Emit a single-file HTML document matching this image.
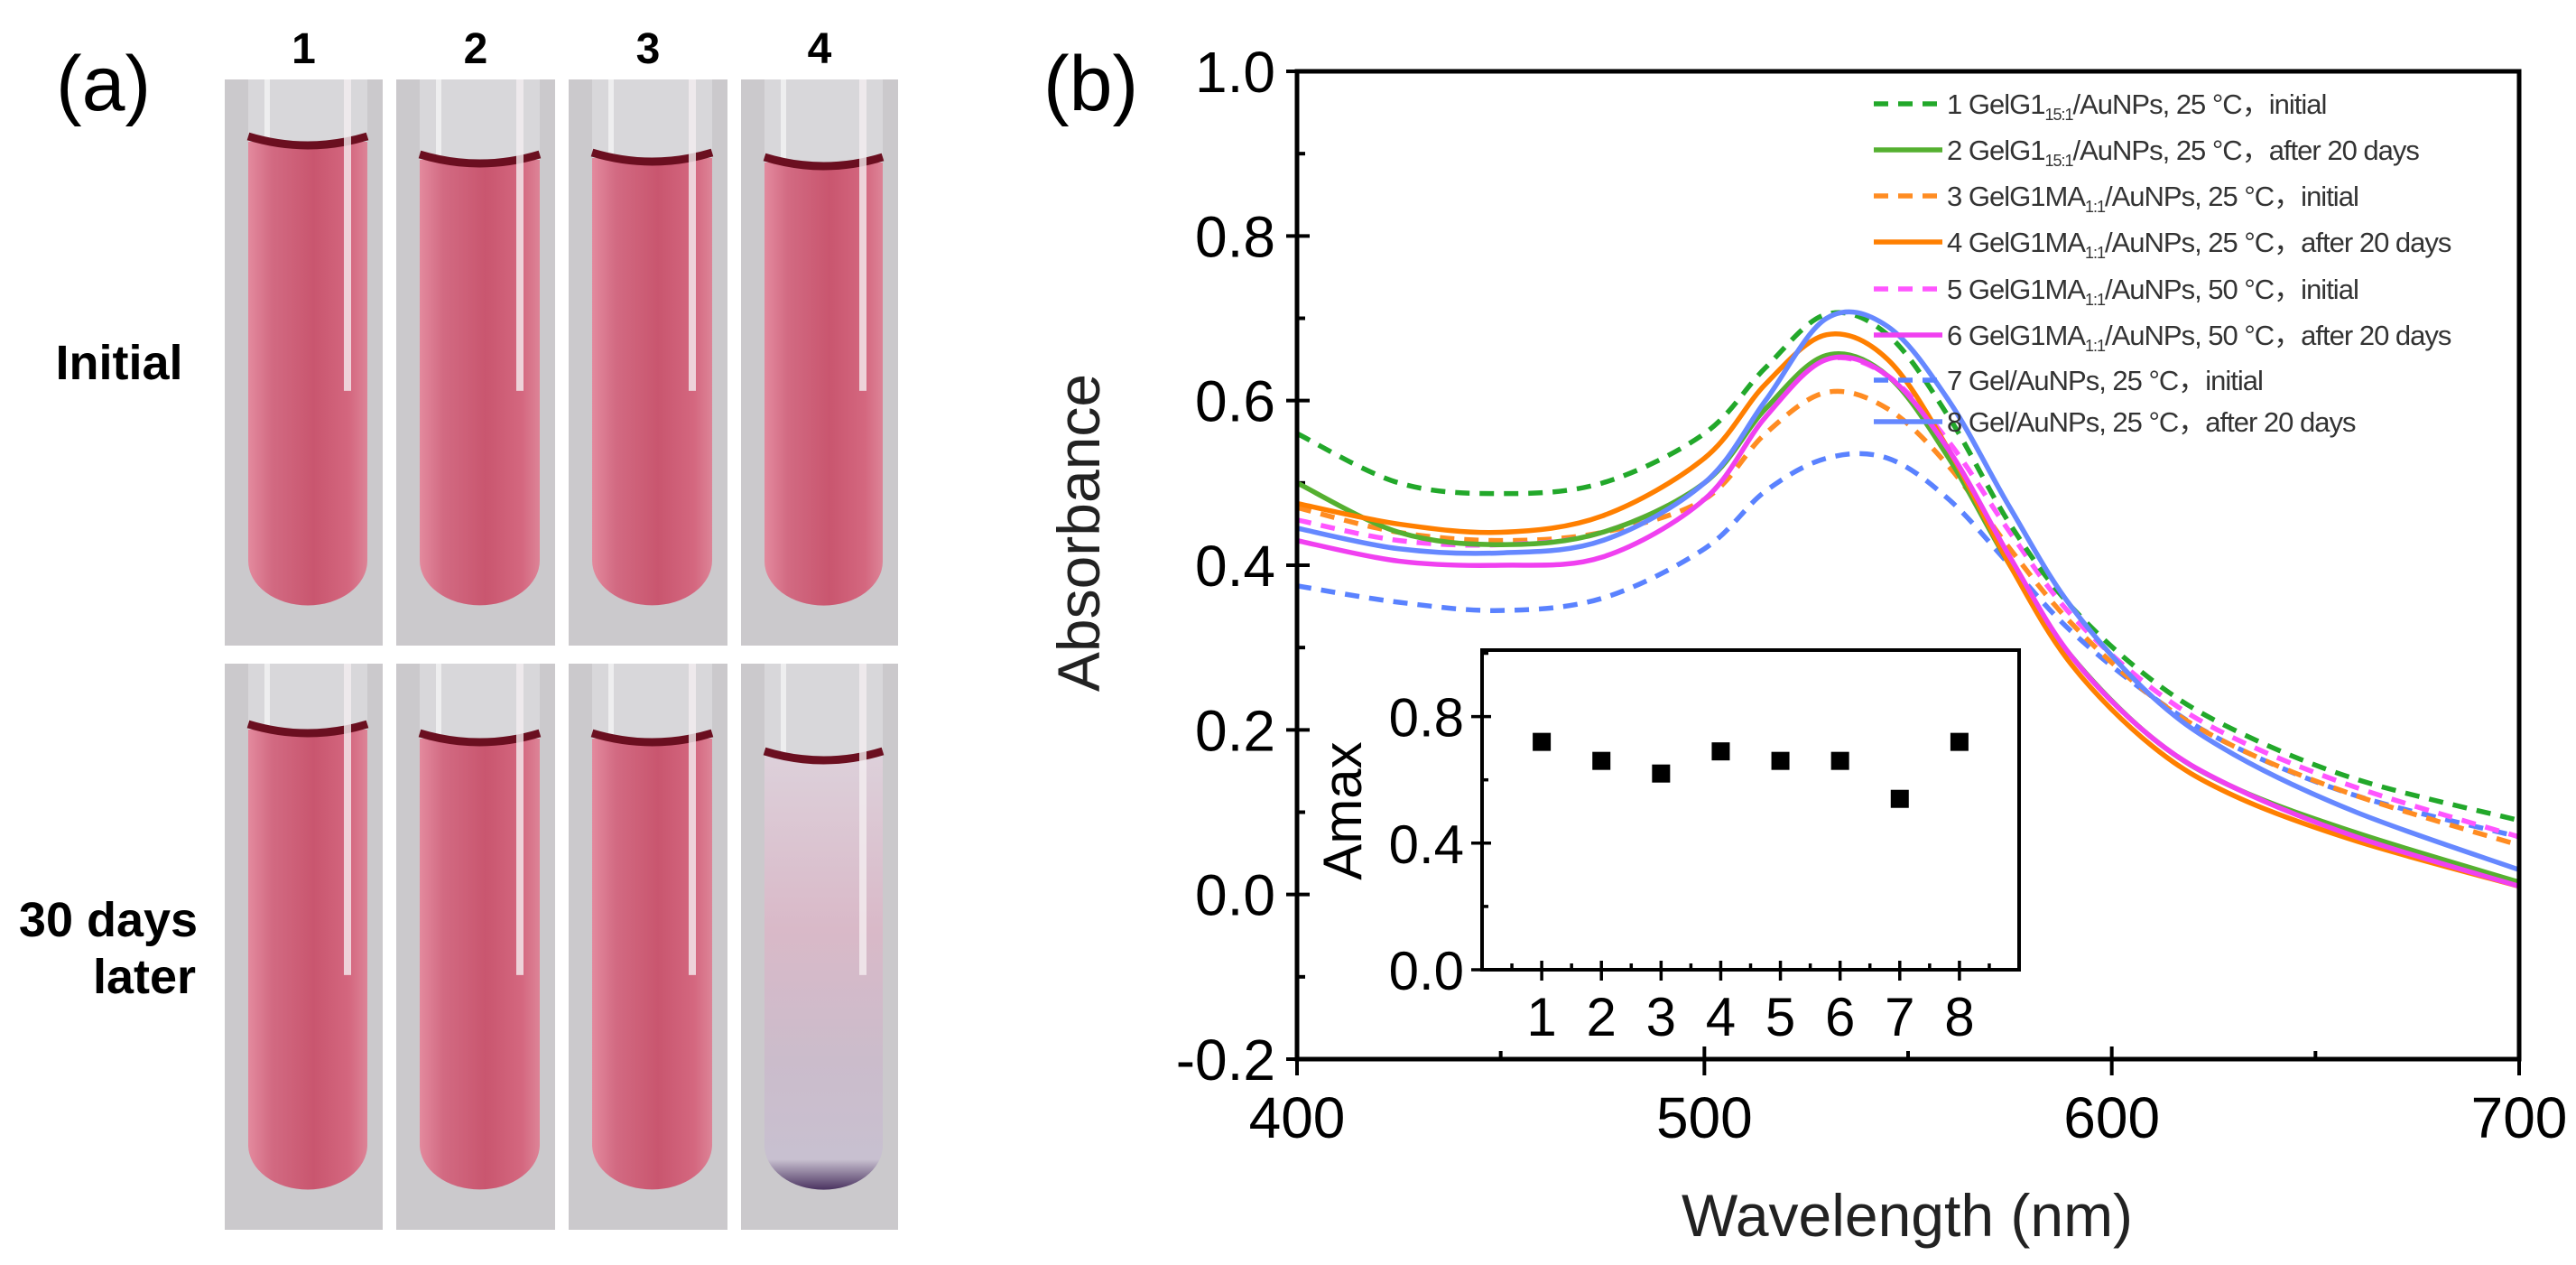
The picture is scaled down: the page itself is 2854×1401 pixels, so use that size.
<!DOCTYPE html>
<html><head><meta charset="utf-8"><style>
html,body{margin:0;padding:0;background:#fff;}
svg{display:block;font-family:"Liberation Sans",sans-serif;}
</style></head><body>
<svg id="fig" width="2854" height="1401" viewBox="0 0 2854 1401" xmlns="http://www.w3.org/2000/svg">
<defs>
<linearGradient id="pinkG" x1="0" x2="1" y1="0" y2="0">
<stop offset="0" stop-color="#e38a9e"/><stop offset="0.2" stop-color="#d26a82"/><stop offset="0.55" stop-color="#c9566f"/><stop offset="0.85" stop-color="#d4677f"/><stop offset="1" stop-color="#dd8497"/></linearGradient>
<linearGradient id="paleG" x1="0" x2="0" y1="0" y2="1">
<stop offset="0" stop-color="#ddd0da"/><stop offset="0.4" stop-color="#d9b9c8"/><stop offset="0.7" stop-color="#cbbccb"/><stop offset="0.93" stop-color="#c8c0d0"/><stop offset="1" stop-color="#4a3360"/></linearGradient>
<clipPath id="plotClip"><rect x="1437" y="79" width="1354" height="1094"/></clipPath>
</defs>
<g id="panelA"></g>
<g id="panelB"></g>
</svg>
<script>
// ---- Chart data ----
const wavelengths = [400,425,450,475,500,515,530,545,560,575,590,610,630,660,700];
const s1 = [.56,.50,.487,.50,.56,.64,.705,.68,.58,.45,.35,.26,.20,.14,.09];
const s2 = [.50,.44,.425,.44,.50,.59,.655,.63,.53,.40,.29,.19,.13,.075,.015];
const s3 = [.47,.44,.43,.44,.48,.56,.61,.59,.52,.42,.33,.24,.18,.12,.06];
const s4 = [.475,.45,.44,.46,.53,.62,.68,.65,.54,.40,.28,.18,.12,.065,.01];
const s5 = [.455,.43,.425,.44,.50,.59,.65,.63,.55,.44,.34,.25,.19,.13,.07];
const s6 = [.43,.405,.40,.41,.48,.58,.65,.63,.54,.41,.29,.19,.13,.07,.01];
const s7 = [.375,.355,.345,.36,.42,.49,.53,.53,.48,.40,.32,.24,.18,.12,.07];
const s8 = [.445,.42,.415,.43,.50,.60,.70,.69,.60,.47,.35,.24,.17,.10,.03];
const seriesLabels = ["1 GelG1|15:1|/AuNPs, 25 °C，initial","2 GelG1|15:1|/AuNPs, 25 °C，after 20 days","3 GelG1MA|1:1|/AuNPs, 25 °C，initial","4 GelG1MA|1:1|/AuNPs, 25 °C，after 20 days","5 GelG1MA|1:1|/AuNPs, 50 °C，initial","6 GelG1MA|1:1|/AuNPs, 50 °C，after 20 days","7 Gel/AuNPs, 25 °C，initial","8 Gel/AuNPs, 25 °C，after 20 days"];
const xTicks = [400,500,600,700];
const yTicks = [-0.2,0,0.2,0.4,0.6,0.8,1.0];
const yTickLabels = ["-0.2","0.0","0.2","0.4","0.6","0.8","1.0"];
const insetCats = [1,2,3,4,5,6,7,8];
const insetAmax = [0.72,0.66,0.62,0.69,0.66,0.66,0.54,0.72];
const insetYTicks = [0,0.4,0.8];
const insetYLabels = ["0.0","0.4","0.8"];

const NS="http://www.w3.org/2000/svg";
function mk(tag, attrs, parent){const e=document.createElementNS(NS,tag);for(const k in attrs)e.setAttribute(k,attrs[k]);parent.appendChild(e);return e;}

// ---- Panel (a) ----
const A=document.getElementById('panelA');
const cols=[[249,424],[439,615],[630,806],[821,995]];
const rows=[[88,715],[735,1362]];
const menis=[[157,177,175,180],[808,818,818,838]];
let t;
t=mk('text',{x:62,y:122,'font-size':86},A);t.textContent='(a)';

['1','2','3','4'].forEach((n,i)=>{const c=(cols[i][0]+cols[i][1])/2;
 const e=mk('text',{x:c,y:70,'font-size':48,'font-weight':'bold','text-anchor':'middle'},A);e.textContent=n;
 });
t=mk('text',{x:132,y:420,'font-size':54,'font-weight':'bold','text-anchor':'middle'},A);t.textContent='Initial';

t=mk('text',{x:120,y:1037,'font-size':54,'font-weight':'bold','text-anchor':'middle'},A);t.textContent='30 days';

t=mk('text',{x:160,y:1100,'font-size':54,'font-weight':'bold','text-anchor':'middle'},A);t.textContent='later';

rows.forEach((r,ri)=>cols.forEach((c,ci)=>{
 const g=mk('g',{},A);
 
 
 mk('rect',{x:c[0],y:r[0],width:c[1]-c[0],height:r[1]-r[0],fill:'#cbc9cc'},g);
 const tx0=c[0]+26,tx1=c[1]-17,w=tx1-tx0,bot=r[1]-28,rad=w/2;
 mk('rect',{x:tx0,y:r[0],width:w,height:bot-r[0]-rad,fill:'#d8d7da'},g);
 mk('rect',{x:tx0+18,y:r[0],width:6,height:menis[ri][ci]-r[0],fill:'#eeeeef'},g);
 const my=menis[ri][ci];
 const bad=(ri==1&&ci==3);
 mk('path',{d:`M${tx0},${my} L${tx1},${my} L${tx1},${bot-rad} A${rad},${rad*0.75} 0 0 1 ${tx0},${bot-rad} Z`,fill:bad?'url(#paleG)':'url(#pinkG)'},g);
 mk('path',{d:`M${tx0},${my-6} Q${(tx0+tx1)/2},${my+14} ${tx1},${my-6}`,stroke:'#6b0f20','stroke-width':9,fill:'none'},g);
 mk('rect',{x:tx1-26,y:r[0],width:8,height:(r[1]-r[0])*0.55,fill:'#f4eef0',opacity:0.8},g);
}));

// ---- Panel (b) ----
const B=document.getElementById('panelB');
const X0=1437,X1=2791,Y0=1173,Y1=79;
const xs=v=>X0+(v-400)/300*(X1-X0);
const ys=v=>Y0-(v+0.2)/1.2*(Y0-Y1);
t=mk('text',{x:1156,y:122,'font-size':86},B);t.textContent='(b)';

// ticks
for(let v=-0.2;v<=1.0001;v+=0.1){const y=ys(v);const maj=Math.abs(Math.round(v*10)%2)==0;
 const e=mk('line',{x1:X0-(maj?12:0),x2:X0+(maj?14:9),y1:y,y2:y,stroke:'#000','stroke-width':4},B);
 }
for(let v=400;v<=700;v+=50){const x=xs(v);const maj=v%100==0;
 const e=mk('line',{x1:x,x2:x,y1:Y0+(maj?18:0),y2:Y0-(maj?14:9),stroke:'#000','stroke-width':4},B);
 }
yTicks.forEach((v,i)=>{const e=mk('text',{x:X0-24,y:ys(v)+23,'font-size':64,'text-anchor':'end'},B);e.textContent=yTickLabels[i];
 });
xTicks.forEach(v=>{const e=mk('text',{x:xs(v),y:1260,'font-size':64,'text-anchor':'middle'},B);e.textContent=String(v);
 });
t=mk('text',{x:2113,y:1369,'font-size':66,'text-anchor':'middle',fill:'#222'},B);t.textContent='Wavelength (nm)';

t=mk('text',{x:0,y:0,'font-size':66,'text-anchor':'middle',transform:'translate(1218,590) rotate(-90)',fill:'#222'},B);t.textContent='Absorbance';


const series=[s1,s2,s3,s4,s5,s6,s7,s8];
const colors=['#22a82a','#55b030','#ff8c22','#ff7f00','#ff55ff','#f040f0','#5a82ff','#6688ff'];
const dashed=[true,false,true,false,true,false,true,false];
function smoothPath(pts){let d=`M${pts[0][0]},${pts[0][1]}`;
 for(let i=0;i<pts.length-1;i++){const p0=pts[i-1]||pts[i],p1=pts[i],p2=pts[i+1],p3=pts[i+2]||p2;
  const c1=[p1[0]+(p2[0]-p0[0])/6,p1[1]+(p2[1]-p0[1])/6],c2=[p2[0]-(p3[0]-p1[0])/6,p2[1]-(p3[1]-p1[1])/6];
  d+=` C${c1[0]},${c1[1]} ${c2[0]},${c2[1]} ${p2[0]},${p2[1]}`;}return d;}
const curves=mk('g',{'clip-path':'url(#plotClip)'},B);

const order=[6,2,4,1,3,5,0,7];
order.forEach(i=>{const pts=wavelengths.map((w,k)=>[xs(w),ys(series[i][k])]);
 const p=mk('path',{d:smoothPath(pts),fill:'none',stroke:colors[i],'stroke-width':5.5},curves);
 if(dashed[i])p.setAttribute('stroke-dasharray','16 11');
 });
// legend
const legY=[115,166,217,268,320,371,421,467];
seriesLabels.forEach((lab,i)=>{const y=legY[i];
 const g=mk('g',{},B);
 const l=mk('line',{x1:2076,x2:2152,y1:y,y2:y,stroke:colors[i],'stroke-width':5.5},g);
 if(dashed[i])l.setAttribute('stroke-dasharray','16 11');
 const parts=lab.split('|');
 const tx=mk('text',{x:2157,y:y+11,'font-size':31,fill:'#333','letter-spacing':'-1'},g);
 const a=mk('tspan',{},tx);a.textContent=parts[0];
 if(parts.length>1){const b=mk('tspan',{'font-size':18,dy:7},tx);b.textContent=parts[1];
  const c=mk('tspan',{dy:-7},tx);c.textContent=parts[2];}
});
// frame
const fr=mk('rect',{x:X0,y:Y1,width:X1-X0,height:Y0-Y1,fill:'none',stroke:'#000','stroke-width':5},B);


// ---- Inset ----
const I=mk('g',{},B);
const IX0=1642,IX1=2237,IY0=1074,IY1=720;
const ixs=v=>IX0+v/9*(IX1-IX0);
const iys=v=>IY0-v/1.01*(IY0-IY1);
mk('rect',{x:IX0,y:IY1,width:IX1-IX0,height:IY0-IY1,fill:'#fff',stroke:'#000','stroke-width':4},I);
for(let v=0;v<=1.0;v+=0.2){const y=iys(v);const maj=Math.round(v*10)%4==0;
 const e=mk('line',{x1:IX0-(maj?12:0),x2:IX0+(maj?10:7),y1:y,y2:y,stroke:'#000','stroke-width':3.5},I);
 }
for(let v=0.5;v<=8.5;v+=0.5){const x=ixs(v);const maj=v%1==0;
 const e=mk('line',{x1:x,x2:x,y1:IY0+(maj?12:0),y2:IY0-(maj?10:7),stroke:'#000','stroke-width':3.5},I);
 }
insetYTicks.forEach((v,i)=>{const e=mk('text',{x:IX0-20,y:iys(v)+22,'font-size':60,'text-anchor':'end'},I);e.textContent=insetYLabels[i];
 });
insetCats.forEach(c=>{const e=mk('text',{x:ixs(c),y:1147,'font-size':60,'text-anchor':'middle'},I);e.textContent=String(c);
 });
t=mk('text',{x:0,y:0,'font-size':60,'text-anchor':'middle',transform:'translate(1508,898) rotate(-90)'},I);t.textContent='Amax';

insetCats.forEach((c,i)=>{const e=mk('rect',{x:ixs(c)-10,y:iys(insetAmax[i])-10,width:20,height:20,fill:'#000'},I);
 });
</script>
</body></html>
